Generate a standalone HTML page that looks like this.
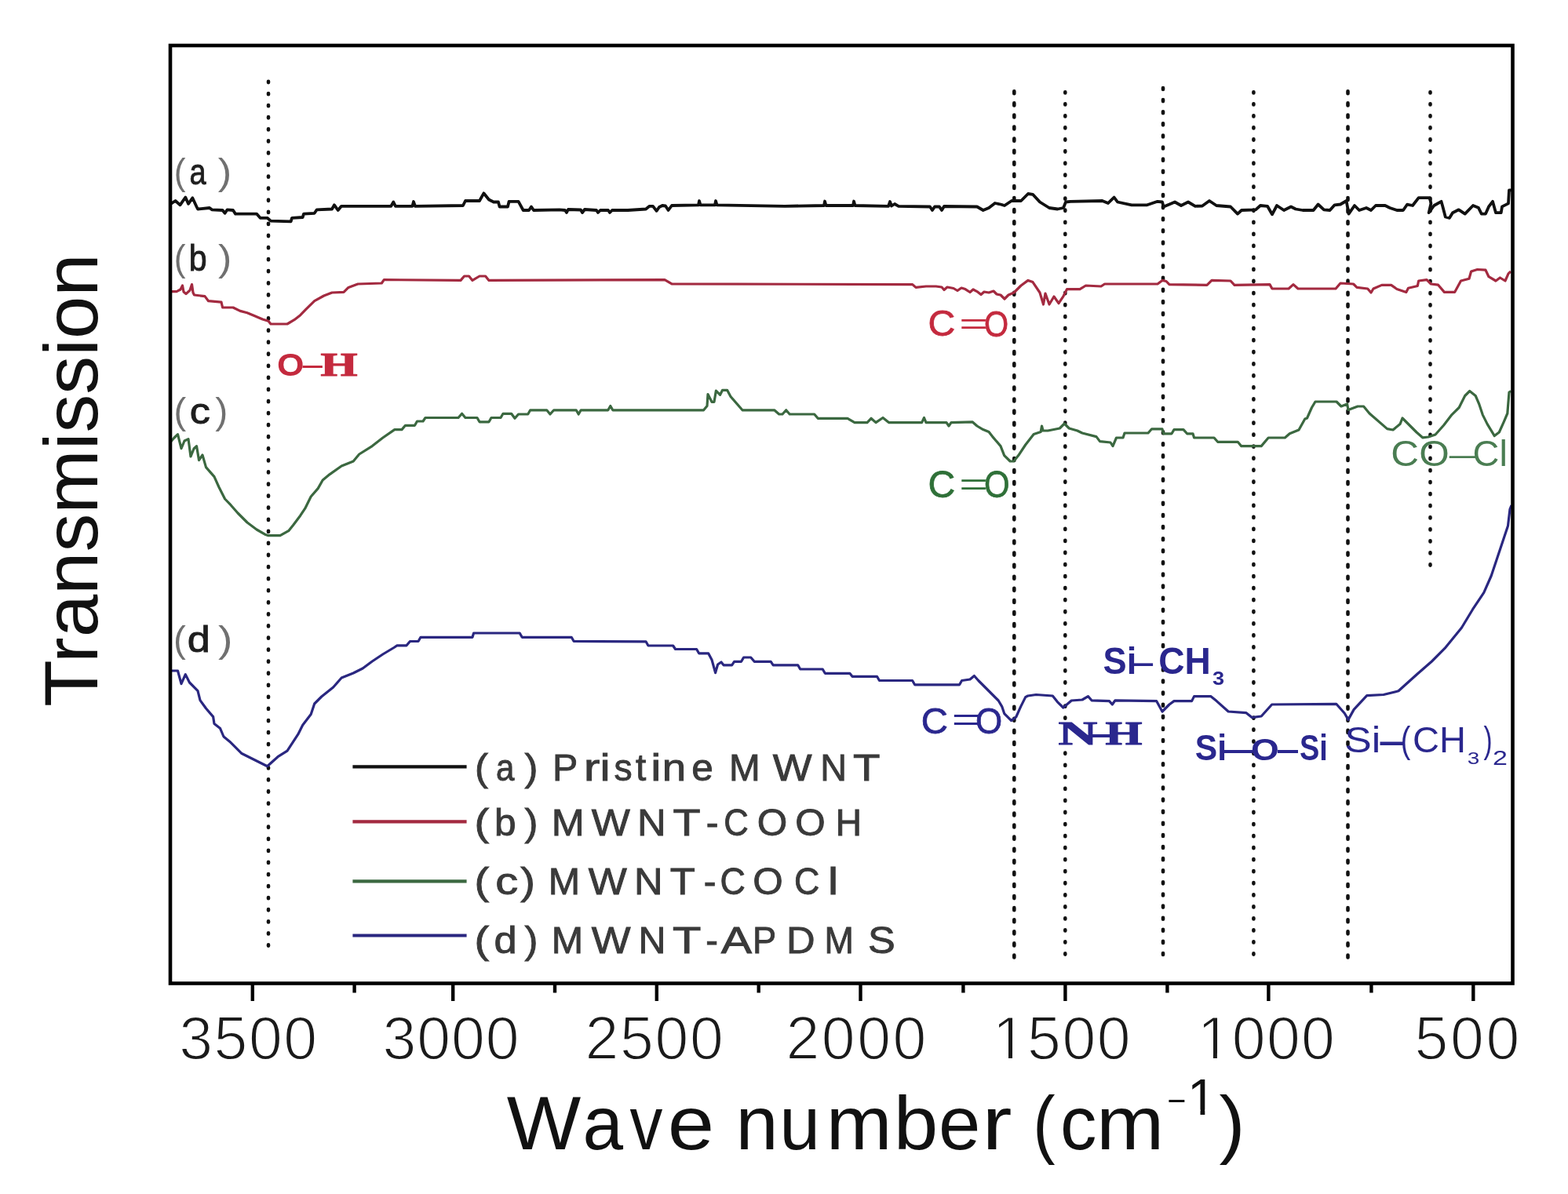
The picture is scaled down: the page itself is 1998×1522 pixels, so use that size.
<!DOCTYPE html>
<html><head><meta charset="utf-8"><title>FTIR spectra of MWNT samples</title>
<style>html,body{margin:0;padding:0;background:#fff;}svg{display:block;}text{font-family:'Liberation Sans', Arial, sans-serif;}</style></head><body>
<svg width="1998" height="1522" viewBox="0 0 1998 1522">
<rect x="0" y="0" width="1998" height="1522" fill="#fff"/>
<g stroke="#111" stroke-width="4.6" stroke-linecap="round">
<line x1="342" y1="103.90" x2="342" y2="1205.60" stroke-dasharray="1.2 13.875"/>
<line x1="1292.3" y1="116.30" x2="1292.3" y2="1220.50" stroke-dasharray="3.0 12.085"/>
<line x1="1357.3" y1="117.20" x2="1357.3" y2="1216.60" stroke-dasharray="1.2 13.844"/>
<line x1="1482" y1="112.00" x2="1482" y2="1217.00" stroke-dasharray="2.0 13.110"/>
<line x1="1597.4" y1="117.20" x2="1597.4" y2="1216.60" stroke-dasharray="1.2 13.844"/>
<line x1="1717.5" y1="116.30" x2="1717.5" y2="1220.50" stroke-dasharray="3.0 12.085"/>
<line x1="1822.5" y1="117.20" x2="1822.5" y2="720.60" stroke-dasharray="1.2 13.855"/>
</g>
<g fill="none" stroke-linejoin="round">
<polyline stroke="#111" stroke-width="3.8" points="217.5,259.8 223.5,256 229.5,261.3 236.3,251.5 240,259.8 245.3,252.3 250.5,263.5 252,266.5 267,265 270,267.3 283.6,268 286.6,271.8 289.6,267.3 297,268 300,272.6 327,272.6 331.6,277.8 340.6,277.8 345,281.6 370.7,282.3 372,277.8 385.7,277 387,272.6 400.7,271.8 403.7,267.3 423,266.5 426,261.3 430.7,268 435,262.8 498.3,262.8 501.3,257.5 504,262.8 525.5,262.8 527,257 529,262.8 590,262 593,256 611,256 616.4,246.3 623,254.5 629,257.5 635,257.5 636.6,263.5 647,263.5 648.6,256.8 660.6,256.8 666.7,268 674,268 677,263.5 680,268 713,267.3 720,268 722,271 724,267 740,267.5 742,271 745,267 760,268 762,271 765,268 775,268 777,271 780,268 800,268 823,266.5 827.6,262.8 832,262.8 836.6,268.8 840,264 844,262 848,262.5 851.6,268 856,262 890,261.3 891,256 892.5,261.3 911,261.3 912,256 913.5,261.3 1000,262.8 1050,262 1051,256.5 1052.5,262 1087,262 1088,256.5 1089.5,262 1132,262.8 1134,257 1136,262.5 1140,260 1145,262.8 1185,263.5 1188,268 1191,263.5 1197,263.5 1200,268 1203,263 1245,263.5 1252.8,268 1260,265 1267.8,259 1275,260.5 1280,262 1289,256 1301,256 1310,247 1316,247.8 1325,257.5 1337,265 1347.6,266.5 1355,265 1358,257.5 1364,256.8 1404.6,256 1412,259 1419.6,251.5 1424,257.5 1442,261.3 1461.7,261.3 1475,256.8 1481,257.5 1482.7,263.5 1490,260.5 1497,257.5 1505,262 1514,257.5 1523,262.8 1532,262.5 1541,256 1550,262 1568,263.5 1577,272.6 1582,268 1600,267.3 1606,262 1615,262.8 1621,273.3 1627,262 1636,268 1645,263.5 1651,266.5 1660,268 1673.6,268 1679.6,260.5 1687,267.3 1694.6,268 1700.6,261.3 1708,260.5 1715.6,256 1718.6,272.6 1726,262 1732,268 1741,265 1747,268 1753,262 1765,262 1771,265 1780,268 1788,268 1793,260.7 1800,262 1807.6,252.2 1822,252.2 1823.4,259.4 1820.7,271.2 1827.3,262 1836.5,256.8 1838,262 1841.8,276.5 1847,277.8 1851,271.2 1858.8,267.3 1866.7,272.6 1877,262 1883.8,264.7 1887.8,272.6 1893,272.6 1897,263.4 1902,256.8 1906,271.2 1912.7,271.2 1914,263.4 1922,259.4 1923,242.3 1926,242.3"/>
<polyline stroke="#a32a40" stroke-width="3.2" points="217.5,371.6 225,371.6 230,369 232.5,364 234,372 237,374.6 242,370 244.5,362.6 246,373 247.5,376 261,377.6 265.6,383.7 282,385.2 283.6,392 297,392 306,396.4 315,398.7 324,402.4 334.6,407 342,409.2 345,413 366,413 375,407.7 382.7,401.7 390,394.2 400.7,383.7 412.7,377 423,373 438,372.4 444,366.4 456,362 486.3,361 489.3,356.6 587,357.4 591.6,352 597.6,352 602,357.4 611,352 618.6,352 623,357.4 847,356.6 856,361.9 1162.7,362.6 1167,366.4 1180,365 1192.7,365 1200,366 1203,369.5 1207,366 1215,367.5 1220,370.5 1225,367 1230,368.6 1236,372.5 1240,369 1245,371.6 1250,375.5 1254,372 1260,373 1266,371 1270,375 1275,376 1280,381 1285,376 1292,373 1301,364 1310,357.4 1316,359.6 1325,373 1329.5,388 1332,374 1337,388 1343,378 1349,386.7 1355,377.6 1359.6,368.6 1376,368.6 1383.6,364 1403,365 1407.6,362 1475,362 1481,357.4 1486,358.5 1490,362.6 1538,363.4 1544,357.4 1568,358 1573,363.4 1618,362.6 1621,368 1642,368 1648,362.6 1654,368 1702,368 1708,361 1724.6,362 1729,366.4 1742.7,368 1747,373 1750,368 1760.7,363.4 1772.7,363.4 1780,368.5 1791.8,372.4 1794.5,367.2 1806.3,364.5 1807.6,358 1818,356.7 1823.4,362 1832.6,363.2 1840.4,372.4 1853.6,372.4 1861.5,358 1872,355.3 1874.6,346 1882.5,343.5 1893,344.2 1897,352.7 1906,358 1911.4,354 1918,358 1922,348.8 1925,346"/>
<polyline stroke="#3b6840" stroke-width="3.2" points="216.8,564 222,558 226.5,553.6 231,571.6 235,562 240,559.6 243,582 247,572 250.5,568.6 253.5,586.6 258,580 262.5,595.6 273,607.6 279,621 286.6,636 294,643.7 303,654 315,666 327,675 337.6,681.2 342,682.7 357,682.7 367.7,676.7 373.7,669.2 382.7,657.2 388.7,648.2 396.2,633 405.2,622.6 411.2,612 420.2,604.6 435.2,594 450.2,588 457.7,579 474.3,568.6 487.8,558 502.8,547.6 512,547.6 516.5,542.3 528.5,542.3 531.5,537 539,537 542,532.5 584,532.5 588.6,527.3 593,532.5 608,532.5 611,537.8 623,537.8 626,532.5 638,532.5 641,527.3 651.6,527.3 656,533.3 660.6,528 672.7,528 675.7,522.8 696.7,522.8 701,528 705.7,522.8 734.2,522.8 737.2,528 740.2,522.8 774.8,522.8 777.8,517.5 780.8,522.8 896.6,522.8 901,517.5 902,502.5 907,512.3 910,512.3 912.4,498 917.6,503.3 920.6,497.3 926.6,497.3 931,505.5 946,522.8 986.7,522.8 992.7,528 997,528 1001.7,522.8 1006.2,528 1037.7,528 1042.2,533.3 1080,533.3 1089,538.6 1105,538.6 1110,533.3 1116,538.6 1125,532.5 1132.5,538.6 1174.6,538.6 1177.5,532.5 1180,538.6 1206,538.6 1209,543 1212,538.6 1239,537.8 1245,543 1252.7,547.6 1260,550.6 1264.7,556.6 1275,568.6 1279.7,580.6 1287.2,588 1291.7,588 1297.7,580.6 1306.7,567 1317.2,553.6 1326.2,550.6 1327.5,543 1329,549 1335.2,549 1350.3,546 1356.3,540 1362.3,546 1372.8,549 1379,552 1397,556.6 1401.5,562.6 1415,564 1418,568.6 1422.5,558 1431,558 1433,552 1463,552 1467.6,546.8 1481,546.8 1482.6,552.8 1493,552.8 1496,547.6 1508,547.6 1512.6,552.8 1520,552.8 1521.6,558 1547,558 1551.7,563.3 1577.2,563.3 1581.7,568.6 1607.2,568.6 1616.2,558 1637.3,558 1643.3,552.8 1655,548 1662.8,534 1665.5,533 1671.5,519.5 1676,512 1703,512 1709,518 1716.6,515 1718,522.5 1730,518 1737.6,518 1745,527 1767.6,546.6 1775,548 1784,540.6 1787,533 1796,542 1805,551 1812.7,557.8 1820,557 1829,554 1839.7,542 1850,528.6 1859.2,519.5 1866.7,504.5 1872.7,498.5 1880.2,504.5 1884.7,515 1889.2,528.6 1895.2,540.6 1904.3,555.6 1910.3,551 1916.3,537.6 1920.8,527 1923,500 1925.3,498.5"/>
<polyline stroke="#2a2780" stroke-width="3.2" points="216,855 226.5,855 231,871.6 236.3,859.6 241.5,870 252,880.6 255,892.6 262.5,903 271.6,913.6 273,922.6 280.6,928.6 285,939 292.6,945.2 307.6,960.2 325.6,969.2 340.6,976.7 354,964.7 366,957.2 379.7,936.2 385.7,924.2 396.2,910.6 400.7,897 409.7,888 424.7,876 435.2,864 450.2,858 462.2,852 474.3,843 487.8,834 502.8,825 506,822.8 518,822.8 522.5,817.5 533,817.5 536,812.3 602,812.3 603.6,807 662.2,807 665.2,812.3 728.2,812.3 731.2,817.5 823,817.8 826,823 857.6,823 860.6,827.5 887.6,827.5 890.6,832.8 902.6,832.8 907,841 911.6,857.6 914.6,847 919,844 922,847.8 932.6,847.8 935.6,843.3 944.6,843.3 947.6,838 956.7,838 961.2,843.3 982.2,843.3 985.2,847.8 1016.7,847.8 1019.7,853 1048.2,853 1051.3,858.3 1082.8,858.3 1086,862.3 1117.5,862.3 1120.5,867.5 1162.6,867.5 1165.6,872.8 1222.6,872.8 1225.6,867.5 1236,866 1241.4,861.5 1246.7,867.5 1252.7,873.5 1260.2,881 1272.2,893 1276.7,900.6 1279.7,909.6 1288.7,918.6 1294.7,914 1300.7,900.6 1306.7,888.6 1309.7,887 1320.2,885.5 1341.3,887 1347.3,894.6 1354.8,902 1365.3,893 1379,892 1386.5,887.6 1391,892.8 1413.5,893.6 1417.3,898 1421,892.8 1473.6,893.6 1481,907 1490,898 1496,893.6 1518.6,893.6 1521.6,887.6 1542.7,887.6 1550.2,893.6 1565.2,907 1587.7,908.6 1595.2,914.6 1607.2,913 1620.7,898 1702.7,897.3 1713.3,909.2 1718,917.4 1725.2,904.4 1741.7,886.7 1763,885.5 1782,880.8 1805.6,859.5 1824.5,843 1841,826.4 1862.4,800.3 1876.6,776.7 1890.8,755.4 1900.2,734 1907.3,712.8 1914.4,691.5 1921.5,670.2 1924,649 1926,644"/>
</g>
<rect x="217" y="58" width="1710.5" height="1195.5" fill="none" stroke="#000" stroke-width="4.6"/>
<g stroke="#000" stroke-width="4.4">
<line x1="321.8" y1="1253" x2="321.8" y2="1276"/>
<line x1="577.2" y1="1253" x2="577.2" y2="1276"/>
<line x1="836.8" y1="1253" x2="836.8" y2="1276"/>
<line x1="1096.5" y1="1253" x2="1096.5" y2="1276"/>
<line x1="1357.4" y1="1253" x2="1357.4" y2="1276"/>
<line x1="1616.4" y1="1253" x2="1616.4" y2="1276"/>
<line x1="1877.3" y1="1253" x2="1877.3" y2="1276"/>
<line x1="451.6" y1="1253" x2="451.6" y2="1265.5"/>
<line x1="707" y1="1253" x2="707" y2="1265.5"/>
<line x1="966.7" y1="1253" x2="966.7" y2="1265.5"/>
<line x1="1227.4" y1="1253" x2="1227.4" y2="1265.5"/>
<line x1="1487.4" y1="1253" x2="1487.4" y2="1265.5"/>
<line x1="1747.4" y1="1253" x2="1747.4" y2="1265.5"/>
</g>
<g font-size="77" fill="#1a1a1a" stroke="#fff" stroke-width="1.8">
<text x="228.17 272.54 316.91 361.28" y="1349.7">3500</text>
<text x="487.47 531.24 575.01 618.78" y="1349.7">3000</text>
<text x="745.53 790.05 834.57 879.08" y="1349.7">2500</text>
<text x="1001.53 1046.85 1092.17 1137.48" y="1349.7">2000</text>
<text x="1264.73 1309.08 1353.43 1397.78" y="1349.7">1500</text>
<text x="1525.63 1569.78 1613.93 1658.08" y="1349.7">1000</text>
<text x="1802.62 1848.10 1893.58" y="1349.7">500</text>
</g>
<text transform="translate(123.8,898.8) rotate(-90)" font-size="96" fill="#111"><tspan x="-2.18" y="0.00" font-size="96.00" font-family="'Liberation Sans', Arial, sans-serif" font-weight="normal" textLength="577.69" lengthAdjust="spacingAndGlyphs">Transmission</tspan></text>
<text fill="#111"><tspan x="645.86" y="1465.00" font-size="96.00" font-family="'Liberation Sans', Arial, sans-serif" font-weight="normal" textLength="94.48" lengthAdjust="spacingAndGlyphs">W</tspan><tspan x="742.46" y="1465.00" font-size="96.00" font-family="'Liberation Sans', Arial, sans-serif" font-weight="normal" textLength="51.54" lengthAdjust="spacingAndGlyphs">a</tspan><tspan x="802.41" y="1465.00" font-size="96.00" font-family="'Liberation Sans', Arial, sans-serif" font-weight="normal" textLength="41.87" lengthAdjust="spacingAndGlyphs">v</tspan><tspan x="850.66" y="1465.00" font-size="96.00" font-family="'Liberation Sans', Arial, sans-serif" font-weight="normal" textLength="59.38" lengthAdjust="spacingAndGlyphs">e</tspan> <tspan x="937.54" y="1465.00" font-size="96.00" font-family="'Liberation Sans', Arial, sans-serif" font-weight="normal" textLength="54.07" lengthAdjust="spacingAndGlyphs">n</tspan><tspan x="993.35" y="1465.00" font-size="96.00" font-family="'Liberation Sans', Arial, sans-serif" font-weight="normal" textLength="51.84" lengthAdjust="spacingAndGlyphs">u</tspan><tspan x="1052.72" y="1465.00" font-size="96.00" font-family="'Liberation Sans', Arial, sans-serif" font-weight="normal" textLength="83.81" lengthAdjust="spacingAndGlyphs">m</tspan><tspan x="1138.75" y="1465.00" font-size="96.00" font-family="'Liberation Sans', Arial, sans-serif" font-weight="normal" textLength="56.52" lengthAdjust="spacingAndGlyphs">b</tspan><tspan x="1195.93" y="1465.00" font-size="96.00" font-family="'Liberation Sans', Arial, sans-serif" font-weight="normal" textLength="53.34" lengthAdjust="spacingAndGlyphs">e</tspan><tspan x="1251.38" y="1465.00" font-size="96.00" font-family="'Liberation Sans', Arial, sans-serif" font-weight="normal" textLength="38.23" lengthAdjust="spacingAndGlyphs">r</tspan> <tspan x="1316.24" y="1465.00" font-size="96.00" font-family="'Liberation Sans', Arial, sans-serif" font-weight="normal" textLength="28.26" lengthAdjust="spacingAndGlyphs">(</tspan><tspan x="1351.06" y="1465.00" font-size="96.00" font-family="'Liberation Sans', Arial, sans-serif" font-weight="normal" textLength="46.39" lengthAdjust="spacingAndGlyphs">c</tspan><tspan x="1397.12" y="1465.00" font-size="96.00" font-family="'Liberation Sans', Arial, sans-serif" font-weight="normal" textLength="86.31" lengthAdjust="spacingAndGlyphs">m</tspan><tspan x="1485.86" y="1413.50" font-size="38.40" font-family="'Liberation Sans', Arial, sans-serif" font-weight="normal" textLength="27.28" lengthAdjust="spacingAndGlyphs">-</tspan><tspan x="1513.02" y="1420.5" font-size="65.55" textLength="36.46" lengthAdjust="spacingAndGlyphs">1</tspan><tspan x="1553.62" y="1465.00" font-size="96.00" font-family="'Liberation Sans', Arial, sans-serif" font-weight="normal" textLength="33.03" lengthAdjust="spacingAndGlyphs">)</tspan></text>
<g fill="#fff">
<rect x="1266.99" y="1342.74" width="18.01" height="9.96"/>
<rect x="1290.00" y="1342.74" width="17.59" height="9.96"/>
<rect x="1527.89" y="1342.74" width="18.01" height="9.96"/>
<rect x="1550.90" y="1342.74" width="17.59" height="9.96"/>
<rect x="1514.94" y="1414.58" width="14.56" height="8.92"/>
<rect x="1535.30" y="1414.58" width="14.21" height="8.92"/>
</g>
<text fill="#707070"><tspan x="221.74" y="234.70" font-size="46.00" font-family="'Liberation Sans', Arial, sans-serif" font-weight="normal" textLength="14.82" lengthAdjust="spacingAndGlyphs">(</tspan><tspan x="241.39" y="234.70" font-size="46.00" font-family="'Liberation Sans', Arial, sans-serif" font-weight="normal" textLength="21.11" lengthAdjust="spacingAndGlyphs" fill="#1e1e1e" stroke="#1e1e1e" stroke-width="0.9">a</tspan><tspan x="277.89" y="234.70" font-size="46.00" font-family="'Liberation Sans', Arial, sans-serif" font-weight="normal" textLength="17.46" lengthAdjust="spacingAndGlyphs">)</tspan></text>
<text fill="#707070"><tspan x="221.74" y="345.30" font-size="46.00" font-family="'Liberation Sans', Arial, sans-serif" font-weight="normal" textLength="14.82" lengthAdjust="spacingAndGlyphs">(</tspan><tspan x="240.85" y="345.30" font-size="46.00" font-family="'Liberation Sans', Arial, sans-serif" font-weight="normal" textLength="22.88" lengthAdjust="spacingAndGlyphs" fill="#1e1e1e" stroke="#1e1e1e" stroke-width="0.9">b</tspan><tspan x="277.90" y="345.30" font-size="46.00" font-family="'Liberation Sans', Arial, sans-serif" font-weight="normal" textLength="17.33" lengthAdjust="spacingAndGlyphs">)</tspan></text>
<text fill="#707070"><tspan x="221.58" y="539.90" font-size="46.00" font-family="'Liberation Sans', Arial, sans-serif" font-weight="normal" textLength="15.70" lengthAdjust="spacingAndGlyphs">(</tspan><tspan x="241.78" y="539.90" font-size="46.00" font-family="'Liberation Sans', Arial, sans-serif" font-weight="normal" textLength="26.09" lengthAdjust="spacingAndGlyphs" fill="#1e1e1e" stroke="#1e1e1e" stroke-width="0.9">c</tspan><tspan x="274.22" y="539.90" font-size="46.00" font-family="'Liberation Sans', Arial, sans-serif" font-weight="normal" textLength="16.08" lengthAdjust="spacingAndGlyphs">)</tspan></text>
<text fill="#707070"><tspan x="220.95" y="830.50" font-size="46.00" font-family="'Liberation Sans', Arial, sans-serif" font-weight="normal" textLength="15.83" lengthAdjust="spacingAndGlyphs">(</tspan><tspan x="238.81" y="830.50" font-size="46.00" font-family="'Liberation Sans', Arial, sans-serif" font-weight="normal" textLength="29.06" lengthAdjust="spacingAndGlyphs" fill="#1e1e1e" stroke="#1e1e1e" stroke-width="0.9">d</tspan><tspan x="277.98" y="830.50" font-size="46.00" font-family="'Liberation Sans', Arial, sans-serif" font-weight="normal" textLength="18.46" lengthAdjust="spacingAndGlyphs">)</tspan></text>
<line x1="449.4" y1="977.3" x2="594.6" y2="977.3" stroke="#111" stroke-width="4.2"/>
<line x1="449.4" y1="1047.4" x2="594.6" y2="1047.4" stroke="#a32a40" stroke-width="4.2"/>
<line x1="449.4" y1="1123.4" x2="594.6" y2="1123.4" stroke="#3b6840" stroke-width="4.2"/>
<line x1="449.4" y1="1192.5" x2="594.6" y2="1192.5" stroke="#2a2780" stroke-width="4.2"/>
<text fill="#3a3a3a" stroke="#3a3a3a" stroke-width="0.9"><tspan x="604.94" y="994.50" font-size="47.20" font-family="'Liberation Sans', Arial, sans-serif" font-weight="normal" textLength="16.96" lengthAdjust="spacingAndGlyphs">(</tspan><tspan x="632.01" y="994.50" font-size="47.20" font-family="'Liberation Sans', Arial, sans-serif" font-weight="normal" textLength="23.39" lengthAdjust="spacingAndGlyphs">a</tspan><tspan x="668.60" y="994.50" font-size="47.20" font-family="'Liberation Sans', Arial, sans-serif" font-weight="normal" textLength="16.96" lengthAdjust="spacingAndGlyphs">)</tspan> <tspan x="704.14" y="994.50" font-size="47.20" font-family="'Liberation Sans', Arial, sans-serif" font-weight="normal" textLength="32.21" lengthAdjust="spacingAndGlyphs">P</tspan><tspan x="743.88" y="994.50" font-size="47.20" font-family="'Liberation Sans', Arial, sans-serif" font-weight="normal" textLength="20.65" lengthAdjust="spacingAndGlyphs">r</tspan><tspan x="764.41" y="994.50" font-size="47.20" font-family="'Liberation Sans', Arial, sans-serif" font-weight="normal" textLength="13.11" lengthAdjust="spacingAndGlyphs">i</tspan><tspan x="782.51" y="994.50" font-size="47.20" font-family="'Liberation Sans', Arial, sans-serif" font-weight="normal" textLength="23.16" lengthAdjust="spacingAndGlyphs">s</tspan><tspan x="810.08" y="994.50" font-size="47.20" font-family="'Liberation Sans', Arial, sans-serif" font-weight="normal" textLength="13.27" lengthAdjust="spacingAndGlyphs">t</tspan><tspan x="829.26" y="994.50" font-size="47.20" font-family="'Liberation Sans', Arial, sans-serif" font-weight="normal" textLength="13.11" lengthAdjust="spacingAndGlyphs">i</tspan><tspan x="843.67" y="994.50" font-size="47.20" font-family="'Liberation Sans', Arial, sans-serif" font-weight="normal" textLength="30.37" lengthAdjust="spacingAndGlyphs">n</tspan><tspan x="881.39" y="994.50" font-size="47.20" font-family="'Liberation Sans', Arial, sans-serif" font-weight="normal" textLength="27.62" lengthAdjust="spacingAndGlyphs">e</tspan> <tspan x="928.99" y="994.50" font-size="47.20" font-family="'Liberation Sans', Arial, sans-serif" font-weight="normal" textLength="39.72" lengthAdjust="spacingAndGlyphs">M</tspan><tspan x="984.87" y="994.50" font-size="47.20" font-family="'Liberation Sans', Arial, sans-serif" font-weight="normal" textLength="49.81" lengthAdjust="spacingAndGlyphs">W</tspan><tspan x="1045.17" y="994.50" font-size="47.20" font-family="'Liberation Sans', Arial, sans-serif" font-weight="normal" textLength="33.74" lengthAdjust="spacingAndGlyphs">N</tspan><tspan x="1086.93" y="994.50" font-size="47.20" font-family="'Liberation Sans', Arial, sans-serif" font-weight="normal" textLength="34.46" lengthAdjust="spacingAndGlyphs">T</tspan></text>
<text fill="#3a3a3a" stroke="#3a3a3a" stroke-width="0.9"><tspan x="604.62" y="1064.90" font-size="47.20" font-family="'Liberation Sans', Arial, sans-serif" font-weight="normal" textLength="18.71" lengthAdjust="spacingAndGlyphs">(</tspan><tspan x="629.90" y="1064.90" font-size="47.20" font-family="'Liberation Sans', Arial, sans-serif" font-weight="normal" textLength="27.58" lengthAdjust="spacingAndGlyphs">b</tspan><tspan x="668.60" y="1064.90" font-size="47.20" font-family="'Liberation Sans', Arial, sans-serif" font-weight="normal" textLength="16.96" lengthAdjust="spacingAndGlyphs">)</tspan> <tspan x="702.67" y="1064.90" font-size="47.20" font-family="'Liberation Sans', Arial, sans-serif" font-weight="normal" textLength="41.97" lengthAdjust="spacingAndGlyphs">M</tspan><tspan x="753.77" y="1064.90" font-size="47.20" font-family="'Liberation Sans', Arial, sans-serif" font-weight="normal" textLength="49.11" lengthAdjust="spacingAndGlyphs">W</tspan><tspan x="812.03" y="1064.90" font-size="47.20" font-family="'Liberation Sans', Arial, sans-serif" font-weight="normal" textLength="36.72" lengthAdjust="spacingAndGlyphs">N</tspan><tspan x="857.61" y="1064.90" font-size="47.20" font-family="'Liberation Sans', Arial, sans-serif" font-weight="normal" textLength="35.11" lengthAdjust="spacingAndGlyphs">T</tspan><tspan x="899.74" y="1064.90" font-size="47.20" font-family="'Liberation Sans', Arial, sans-serif" font-weight="normal" textLength="15.72" lengthAdjust="spacingAndGlyphs">-</tspan><tspan x="922.28" y="1064.90" font-size="47.20" font-family="'Liberation Sans', Arial, sans-serif" font-weight="normal" textLength="31.59" lengthAdjust="spacingAndGlyphs">C</tspan><tspan x="964.65" y="1064.90" font-size="47.20" font-family="'Liberation Sans', Arial, sans-serif" font-weight="normal" textLength="38.51" lengthAdjust="spacingAndGlyphs">O</tspan><tspan x="1013.35" y="1064.90" font-size="47.20" font-family="'Liberation Sans', Arial, sans-serif" font-weight="normal" textLength="38.51" lengthAdjust="spacingAndGlyphs">O</tspan><tspan x="1064.63" y="1064.90" font-size="47.20" font-family="'Liberation Sans', Arial, sans-serif" font-weight="normal" textLength="33.23" lengthAdjust="spacingAndGlyphs">H</tspan></text>
<text fill="#3a3a3a" stroke="#3a3a3a" stroke-width="0.9"><tspan x="604.62" y="1139.90" font-size="47.20" font-family="'Liberation Sans', Arial, sans-serif" font-weight="normal" textLength="18.71" lengthAdjust="spacingAndGlyphs">(</tspan><tspan x="631.34" y="1139.90" font-size="47.20" font-family="'Liberation Sans', Arial, sans-serif" font-weight="normal" textLength="28.99" lengthAdjust="spacingAndGlyphs">c</tspan><tspan x="663.17" y="1139.90" font-size="47.20" font-family="'Liberation Sans', Arial, sans-serif" font-weight="normal" textLength="18.71" lengthAdjust="spacingAndGlyphs">)</tspan> <tspan x="698.73" y="1139.90" font-size="47.20" font-family="'Liberation Sans', Arial, sans-serif" font-weight="normal" textLength="40.35" lengthAdjust="spacingAndGlyphs">M</tspan><tspan x="749.77" y="1139.90" font-size="47.20" font-family="'Liberation Sans', Arial, sans-serif" font-weight="normal" textLength="49.01" lengthAdjust="spacingAndGlyphs">W</tspan><tspan x="808.04" y="1139.90" font-size="47.20" font-family="'Liberation Sans', Arial, sans-serif" font-weight="normal" textLength="36.59" lengthAdjust="spacingAndGlyphs">N</tspan><tspan x="853.72" y="1139.90" font-size="47.20" font-family="'Liberation Sans', Arial, sans-serif" font-weight="normal" textLength="32.09" lengthAdjust="spacingAndGlyphs">T</tspan><tspan x="896.64" y="1139.90" font-size="47.20" font-family="'Liberation Sans', Arial, sans-serif" font-weight="normal" textLength="15.72" lengthAdjust="spacingAndGlyphs">-</tspan><tspan x="917.42" y="1139.90" font-size="47.20" font-family="'Liberation Sans', Arial, sans-serif" font-weight="normal" textLength="32.39" lengthAdjust="spacingAndGlyphs">C</tspan><tspan x="959.25" y="1139.90" font-size="47.20" font-family="'Liberation Sans', Arial, sans-serif" font-weight="normal" textLength="38.51" lengthAdjust="spacingAndGlyphs">O</tspan><tspan x="1012.02" y="1139.90" font-size="47.20" font-family="'Liberation Sans', Arial, sans-serif" font-weight="normal" textLength="32.39" lengthAdjust="spacingAndGlyphs">C</tspan><tspan x="1055.03" y="1139.90" font-size="47.20" font-family="'Liberation Sans', Arial, sans-serif" font-weight="normal" textLength="13.11" lengthAdjust="spacingAndGlyphs">l</tspan></text>
<text fill="#3a3a3a" stroke="#3a3a3a" stroke-width="0.9"><tspan x="604.62" y="1214.80" font-size="47.20" font-family="'Liberation Sans', Arial, sans-serif" font-weight="normal" textLength="18.71" lengthAdjust="spacingAndGlyphs">(</tspan><tspan x="629.60" y="1214.80" font-size="47.20" font-family="'Liberation Sans', Arial, sans-serif" font-weight="normal" textLength="29.19" lengthAdjust="spacingAndGlyphs">d</tspan><tspan x="668.60" y="1214.80" font-size="47.20" font-family="'Liberation Sans', Arial, sans-serif" font-weight="normal" textLength="16.96" lengthAdjust="spacingAndGlyphs">)</tspan> <tspan x="702.83" y="1214.80" font-size="47.20" font-family="'Liberation Sans', Arial, sans-serif" font-weight="normal" textLength="40.35" lengthAdjust="spacingAndGlyphs">M</tspan><tspan x="753.77" y="1214.80" font-size="47.20" font-family="'Liberation Sans', Arial, sans-serif" font-weight="normal" textLength="49.81" lengthAdjust="spacingAndGlyphs">W</tspan><tspan x="813.63" y="1214.80" font-size="47.20" font-family="'Liberation Sans', Arial, sans-serif" font-weight="normal" textLength="34.91" lengthAdjust="spacingAndGlyphs">N</tspan><tspan x="856.96" y="1214.80" font-size="47.20" font-family="'Liberation Sans', Arial, sans-serif" font-weight="normal" textLength="36.41" lengthAdjust="spacingAndGlyphs">T</tspan><tspan x="899.19" y="1214.80" font-size="47.20" font-family="'Liberation Sans', Arial, sans-serif" font-weight="normal" textLength="15.72" lengthAdjust="spacingAndGlyphs">-</tspan><tspan x="918.88" y="1214.80" font-size="47.20" font-family="'Liberation Sans', Arial, sans-serif" font-weight="normal" textLength="39.33" lengthAdjust="spacingAndGlyphs">A</tspan><tspan x="958.90" y="1214.80" font-size="47.20" font-family="'Liberation Sans', Arial, sans-serif" font-weight="normal" textLength="30.08" lengthAdjust="spacingAndGlyphs">P</tspan><tspan x="1002.05" y="1214.80" font-size="47.20" font-family="'Liberation Sans', Arial, sans-serif" font-weight="normal" textLength="36.58" lengthAdjust="spacingAndGlyphs">D</tspan><tspan x="1050.52" y="1214.80" font-size="47.20" font-family="'Liberation Sans', Arial, sans-serif" font-weight="normal" textLength="37.36" lengthAdjust="spacingAndGlyphs">M</tspan><tspan x="1105.93" y="1214.80" font-size="47.20" font-family="'Liberation Sans', Arial, sans-serif" font-weight="normal" textLength="34.76" lengthAdjust="spacingAndGlyphs">S</tspan></text>
<text fill="#c42a3e" stroke="#c42a3e" stroke-width="0"><tspan x="352.98" y="479.10" font-size="41.24" font-family="'Liberation Sans', Arial, sans-serif" font-weight="bold" textLength="34.48" lengthAdjust="spacingAndGlyphs">O</tspan><tspan x="385.60" y="478.88" font-size="44.85" font-family="'Liberation Sans', Arial, sans-serif" font-weight="normal" textLength="25.42" lengthAdjust="spacingAndGlyphs">–</tspan><tspan x="408.57" y="478.80" font-size="41.23" font-family="'Liberation Serif', 'Times New Roman', serif" font-weight="bold" textLength="47.04" lengthAdjust="spacingAndGlyphs" stroke-width="1">H</tspan></text>
<text fill="#c42a3e" stroke="#c42a3e" stroke-width="0"><tspan x="1182.55" y="428.34" font-size="46.89" font-family="'Liberation Sans', Arial, sans-serif" font-weight="normal" textLength="34.78" lengthAdjust="spacingAndGlyphs" stroke-width="0.8">C</tspan><tspan x="1222.22" y="424.75" font-size="37.24" font-family="'Liberation Sans', Arial, sans-serif" font-weight="normal" textLength="36.78" lengthAdjust="spacingAndGlyphs">=</tspan><tspan x="1254.01" y="428.94" font-size="46.75" font-family="'Liberation Sans', Arial, sans-serif" font-weight="normal" textLength="31.11" lengthAdjust="spacingAndGlyphs" stroke-width="0.8">O</tspan></text>
<text fill="#2f7038" stroke="#2f7038" stroke-width="0"><tspan x="1182.55" y="634.43" font-size="47.74" font-family="'Liberation Sans', Arial, sans-serif" font-weight="normal" textLength="34.78" lengthAdjust="spacingAndGlyphs" stroke-width="0.8">C</tspan><tspan x="1222.22" y="630.62" font-size="39.41" font-family="'Liberation Sans', Arial, sans-serif" font-weight="normal" textLength="36.78" lengthAdjust="spacingAndGlyphs">=</tspan><tspan x="1253.92" y="634.43" font-size="47.88" font-family="'Liberation Sans', Arial, sans-serif" font-weight="normal" textLength="32.59" lengthAdjust="spacingAndGlyphs" stroke-width="0.8">O</tspan></text>
<text fill="#4a7d52" stroke="#4a7d52" stroke-width="0"><tspan x="1772.39" y="594.14" font-size="46.61" font-family="'Liberation Sans', Arial, sans-serif" font-weight="normal" textLength="74.28" lengthAdjust="spacingAndGlyphs">CO</tspan><tspan x="1846.70" y="593.22" font-size="41.86" font-family="'Liberation Sans', Arial, sans-serif" font-weight="normal" textLength="33.93" lengthAdjust="spacingAndGlyphs">–</tspan><tspan x="1876.62" y="594.14" font-size="46.61" font-family="'Liberation Sans', Arial, sans-serif" font-weight="normal" textLength="44.32" lengthAdjust="spacingAndGlyphs">Cl</tspan></text>
<text fill="#2a278e" stroke="#2a278e" stroke-width="0"><tspan x="1173.69" y="934.64" font-size="46.61" font-family="'Liberation Sans', Arial, sans-serif" font-weight="normal" textLength="34.21" lengthAdjust="spacingAndGlyphs" stroke-width="0.8">C</tspan><tspan x="1212.80" y="931.27" font-size="39.72" font-family="'Liberation Sans', Arial, sans-serif" font-weight="normal" textLength="37.02" lengthAdjust="spacingAndGlyphs">=</tspan><tspan x="1243.12" y="934.54" font-size="46.61" font-family="'Liberation Sans', Arial, sans-serif" font-weight="normal" textLength="34.18" lengthAdjust="spacingAndGlyphs" stroke-width="0.8">O</tspan></text>
<text fill="#2a278e" stroke="#2a278e" stroke-width="0"><tspan x="1348.49" y="949.20" font-size="41.69" font-family="'Liberation Serif', 'Times New Roman', serif" font-weight="bold" textLength="49.72" lengthAdjust="spacingAndGlyphs" stroke-width="1">N</tspan><tspan x="1392.00" y="952.67" font-size="59.80" font-family="'Liberation Sans', Arial, sans-serif" font-weight="normal" textLength="26.02" lengthAdjust="spacingAndGlyphs">–</tspan><tspan x="1408.57" y="949.20" font-size="41.69" font-family="'Liberation Serif', 'Times New Roman', serif" font-weight="bold" textLength="46.93" lengthAdjust="spacingAndGlyphs" stroke-width="1">H</tspan></text>
<text fill="#2a278e" stroke="#2a278e" stroke-width="0"><tspan x="1405.50" y="859.33" font-size="47.74" font-family="'Liberation Sans', Arial, sans-serif" font-weight="bold" textLength="42.70" lengthAdjust="spacingAndGlyphs">Si</tspan><tspan x="1445.00" y="861.45" font-size="53.82" font-family="'Liberation Sans', Arial, sans-serif" font-weight="normal" textLength="24.12" lengthAdjust="spacingAndGlyphs">–</tspan><tspan x="1476.21" y="859.33" font-size="47.74" font-family="'Liberation Sans', Arial, sans-serif" font-weight="bold" textLength="66.60" lengthAdjust="spacingAndGlyphs">CH</tspan><tspan x="1545.08" y="873.03" font-size="24.38" font-family="'Liberation Sans', Arial, sans-serif" font-weight="bold" textLength="15.10" lengthAdjust="spacingAndGlyphs">3</tspan></text>
<text fill="#2a278e" stroke="#2a278e" stroke-width="0"><tspan x="1522.77" y="968.55" font-size="45.90" font-family="'Liberation Sans', Arial, sans-serif" font-weight="bold" textLength="40.24" lengthAdjust="spacingAndGlyphs">Si</tspan><tspan x="1560.00" y="972.67" font-size="59.80" font-family="'Liberation Sans', Arial, sans-serif" font-weight="normal" textLength="36.03" lengthAdjust="spacingAndGlyphs">–</tspan><tspan x="1594.11" y="968.61" font-size="39.55" font-family="'Liberation Sans', Arial, sans-serif" font-weight="bold" textLength="35.82" lengthAdjust="spacingAndGlyphs">O</tspan><tspan x="1628.00" y="972.67" font-size="59.80" font-family="'Liberation Sans', Arial, sans-serif" font-weight="normal" textLength="26.02" lengthAdjust="spacingAndGlyphs">–</tspan><tspan x="1655.91" y="968.55" font-size="45.90" font-family="'Liberation Sans', Arial, sans-serif" font-weight="bold" textLength="35.77" lengthAdjust="spacingAndGlyphs">Si</tspan></text>
<text fill="#2a278e" stroke="#2a278e" stroke-width="0"><tspan x="1713.15" y="958.54" font-size="46.61" font-family="'Liberation Sans', Arial, sans-serif" font-weight="normal" textLength="46.04" lengthAdjust="spacingAndGlyphs">Si</tspan><tspan x="1758.50" y="964.68" font-size="65.78" font-family="'Liberation Sans', Arial, sans-serif" font-weight="normal" textLength="30.83" lengthAdjust="spacingAndGlyphs">–</tspan><tspan x="1784.66" y="959.44" font-size="46.16" font-family="'Liberation Sans', Arial, sans-serif" font-weight="normal" textLength="12.56" lengthAdjust="spacingAndGlyphs">(</tspan><tspan x="1800.11" y="958.54" font-size="46.61" font-family="'Liberation Sans', Arial, sans-serif" font-weight="normal" textLength="67.92" lengthAdjust="spacingAndGlyphs">CH</tspan><tspan x="1869.74" y="974.29" font-size="21.89" font-family="'Liberation Sans', Arial, sans-serif" font-weight="normal" textLength="15.48" lengthAdjust="spacingAndGlyphs">3</tspan><tspan x="1890.41" y="959.44" font-size="46.16" font-family="'Liberation Sans', Arial, sans-serif" font-weight="normal" textLength="11.05" lengthAdjust="spacingAndGlyphs">)</tspan><tspan x="1902.09" y="974.50" font-size="25.21" font-family="'Liberation Sans', Arial, sans-serif" font-weight="normal" textLength="18.92" lengthAdjust="spacingAndGlyphs">2</tspan></text>
</svg></body></html>
